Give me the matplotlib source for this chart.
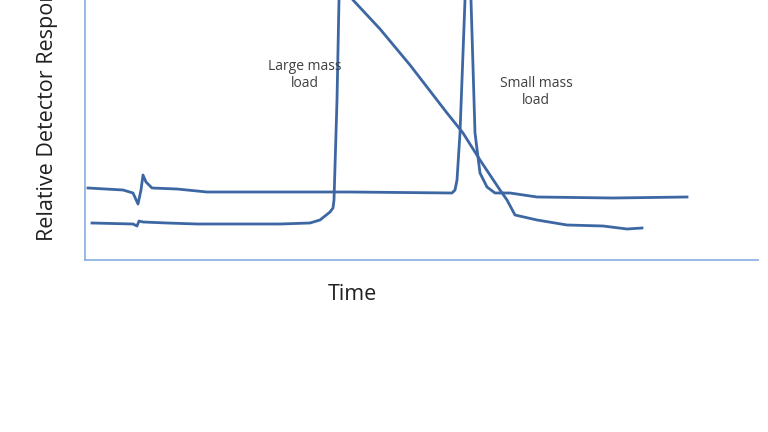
import matplotlib
matplotlib.use("Agg")
import matplotlib.pyplot as plt

# trace 1: small mass load (narrow peak)
t_small = [3, 38, 48, 53, 56, 58, 61, 67, 92, 122, 195, 265, 367, 370, 372, 375, 380,
           383, 386, 390, 395, 402, 410, 425, 452, 528, 602]
r_small = [72, 70, 67, 56, 70, 85, 78, 72, 71, 68, 68, 68, 67, 70, 80, 127, 260,
           285, 260, 127, 87, 73, 67, 67, 63, 62, 63]

# trace 2: large mass load (overloaded, tailing peak)
t_large = [7, 48, 52, 54, 58, 82, 112, 195, 225, 235, 245, 248, 249, 252, 254, 257,
           261, 268, 295, 315, 325, 362, 378, 395, 415, 422, 430, 452, 482, 518, 542, 557]
r_large = [37, 36, 34, 39, 38, 37, 36, 36, 37, 40, 48, 52, 60, 160, 260, 275,
           270, 260, 231, 207, 195, 147, 127, 100, 70, 60, 45, 40, 35, 34, 31, 32]

line_col = "#3d67a3"
spine_col = "#8db3e2"
font = ["Open Sans", "DejaVu Sans"]

fig = plt.figure(figsize=(7.68, 4.32), dpi=100)
ax = fig.add_axes([85 / 768, 172 / 432, 673 / 768, 260 / 432])

ax.plot(t_small, r_small, color=line_col, lw=2.0, solid_joinstyle="round")
ax.plot(t_large, r_large, color=line_col, lw=2.0, solid_joinstyle="round")

ax.set_xlim(0, 673)
ax.set_ylim(0, 260)
for s in ["top", "right"]:
    ax.spines[s].set_visible(False)
for s in ["left", "bottom"]:
    ax.spines[s].set_color(spine_col)
    ax.spines[s].set_linewidth(1.3)
ax.set_xticks([])
ax.set_yticks([])

ax.text(220, 185, "Large mass\nload", ha="center", va="center", fontsize=10,
        color="#404040", family=font, linespacing=1.1)
ax.text(451, 168, "Small mass\nload", ha="center", va="center", fontsize=10,
        color="#404040", family=font, linespacing=1.1)

fig.text(352 / 768, 1 - 294 / 432, "Time", ha="center", va="center",
         fontsize=15.5, color="#202020", family=font)
fig.text(48 / 768, 1 - 241 / 432, "Relative Detector Response", rotation=90,
         ha="center", va="bottom", fontsize=15.5, color="#202020", family=font)

fig.savefig("out.png", dpi=100)
